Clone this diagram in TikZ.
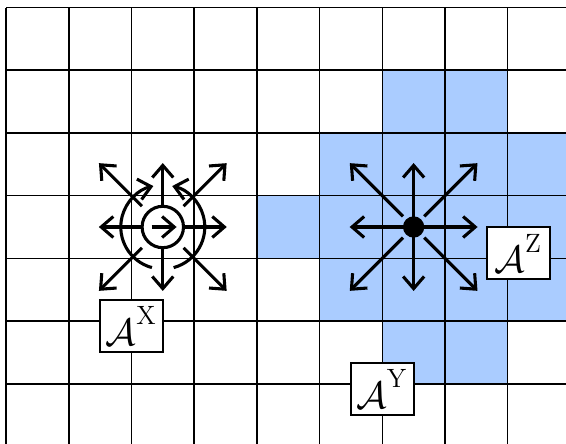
\documentclass[tikz,border=0pt]{standalone}
\usepackage{amsmath,amssymb}
\usetikzlibrary{arrows.meta,calc}
\definecolor{cellblue}{RGB}{170,204,255}
\newcommand{\agentlabel}[1]{$\mathcal{A}^{\raisebox{3pt}{$\scriptstyle\mathrm{#1}$}}$}

\begin{document}
\begin{tikzpicture}[
  gridline/.style={line width=0.7pt, color=black},
  cell/.style={fill=cellblue, draw=none},
  arr/.style={-{Straight Barb[length=5.5pt,width=9.5pt]}, line width=1.4pt},
  agent/.style={draw, line width=0.8pt, fill=white, minimum width=10mm, minimum height=8.3mm, inner sep=1pt, font=\fontsize{18.5}{20}\selectfont},
]
  \useasboundingbox (-0.096,0.12) rectangle (8.93,-6.96);
  \clip (-0.096,0.12) rectangle (8.93,-6.96);

  % occupied cells
  \foreach \c/\r in {6/1,7/1, 5/2,6/2,7/2,8/2, 4/3,5/3,6/3,7/3,8/3, 5/4,6/4,7/4,8/4, 6/5,7/5}
    \fill[cell] (\c,-\r) rectangle ++(1,-1);

  % grid
  \draw[gridline] (0,0) grid (9,-7);

  % X: rotating agent
  \coordinate (cx) at (2.5,-3.5);
  \node[circle, draw, line width=1.4pt, minimum size=6.6mm, inner sep=0pt] (dx) at (cx) {};
  \draw[arr] ($(cx)+(-0.18,0)$) -- ($(cx)+(0.22,0)$);
  \foreach \a in {0,90,180,270}
    \draw[arr] (dx.\a) -- ($(cx)+(\a:1.02)$);
  \foreach \a in {45,135,225,315}
    \draw[arr] ($(cx)+(\a:0.47)$) -- ($(cx)+(\a:1.44)$);
  \draw[arr] ($(cx)+(255:0.67)$) arc[start angle=255, end angle=103, radius=0.67];
  \draw[arr] ($(cx)+(-75:0.67)$) arc[start angle=-75, end angle=77, radius=0.67];

  % Z: point agent
  \coordinate (cz) at (6.5,-3.5);
  \foreach \a in {0,90,180,270}
    \draw[arr] (cz) -- ($(cz)+(\a:1.02)$);
  \foreach \a in {45,135,225,315}
    \draw[arr] ($(cz)+(\a:0.24)$) -- ($(cz)+(\a:1.44)$);
  \node[circle, fill, minimum size=3.4mm, inner sep=0pt] (dz) at (cz) {};

  % labels
  \node[agent] (ax) at (2,-5.08) {\agentlabel{X}};
  \node[agent] (ay) at (6,-6.08) {\agentlabel{Y}};
  \node[agent] (az) at (8.17,-3.92) {\agentlabel{Z}};
\end{tikzpicture}
\end{document}
